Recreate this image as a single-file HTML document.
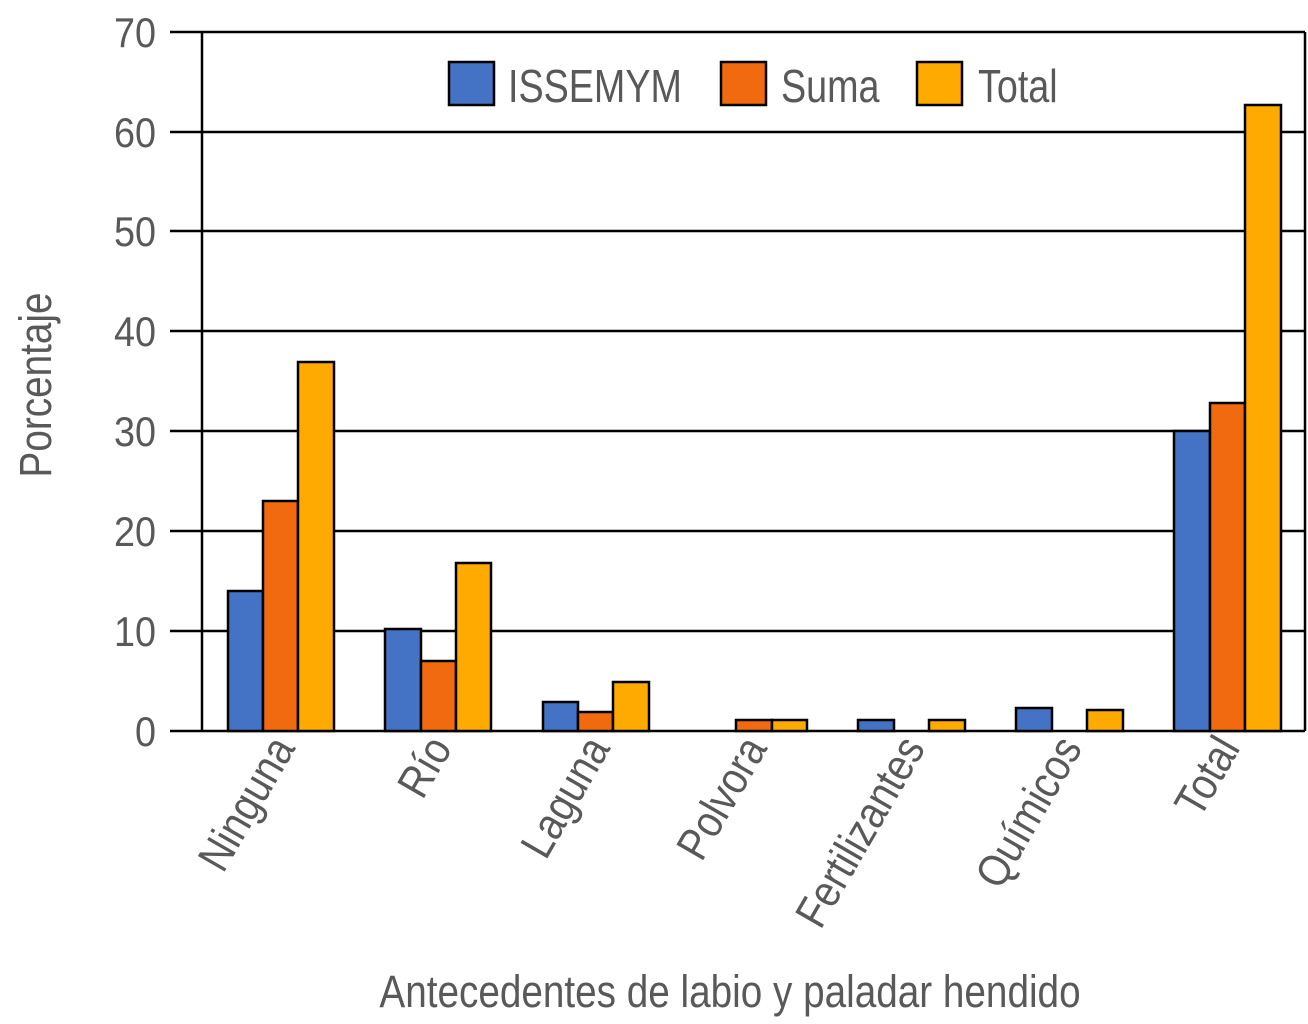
<!DOCTYPE html>
<html><head><meta charset="utf-8"><style>body{margin:0;background:#fff}svg{display:block}</style></head><body>
<svg width="1308" height="1024" xmlns="http://www.w3.org/2000/svg" font-family="Liberation Sans, sans-serif" fill="#595959">
<g stroke="#000" stroke-width="2.5">
<line x1="170" y1="32" x2="1305" y2="32"/><line x1="170" y1="132" x2="1305" y2="132"/><line x1="170" y1="231" x2="1305" y2="231"/><line x1="170" y1="331" x2="1305" y2="331"/><line x1="170" y1="431" x2="1305" y2="431"/><line x1="170" y1="531" x2="1305" y2="531"/><line x1="170" y1="631" x2="1305" y2="631"/><line x1="170" y1="731" x2="1305" y2="731"/>
<line x1="202" y1="32" x2="202" y2="731"/><line x1="1305" y1="32" x2="1305" y2="731"/>
</g>
<g font-size="42" text-anchor="end">
<text transform="translate(156,47) scale(0.9,1)">70</text><text transform="translate(156,147) scale(0.9,1)">60</text><text transform="translate(156,246) scale(0.9,1)">50</text><text transform="translate(156,346) scale(0.9,1)">40</text><text transform="translate(156,446) scale(0.9,1)">30</text><text transform="translate(156,546) scale(0.9,1)">20</text><text transform="translate(156,646) scale(0.9,1)">10</text><text transform="translate(156,746) scale(0.9,1)">0</text>
</g>
<g stroke="#000" stroke-width="2.5">
<rect x="228" y="591" width="35" height="140" fill="#4472C4"/><rect x="263" y="501" width="35" height="230" fill="#F26A0F"/><rect x="298" y="362" width="36" height="369" fill="#FFAA00"/>
<rect x="385" y="629" width="36" height="102" fill="#4472C4"/><rect x="421" y="661" width="35" height="70" fill="#F26A0F"/><rect x="456" y="563" width="35" height="168" fill="#FFAA00"/>
<rect x="543" y="702" width="35" height="29" fill="#4472C4"/><rect x="578" y="712" width="35" height="19" fill="#F26A0F"/><rect x="613" y="682" width="36" height="49" fill="#FFAA00"/>
<rect x="736" y="720" width="36" height="11" fill="#F26A0F"/><rect x="772" y="720" width="35" height="11" fill="#FFAA00"/>
<rect x="858" y="720" width="36" height="11" fill="#4472C4"/><rect x="929" y="720" width="36" height="11" fill="#FFAA00"/>
<rect x="1016" y="708" width="36" height="23" fill="#4472C4"/><rect x="1087" y="710" width="36" height="21" fill="#FFAA00"/>
<rect x="1174" y="431" width="36" height="300" fill="#4472C4"/><rect x="1210" y="403" width="35" height="328" fill="#F26A0F"/><rect x="1245" y="105" width="36" height="626" fill="#FFAA00"/>
<rect x="449" y="62" width="45" height="43" fill="#4472C4"/><rect x="721" y="62" width="45" height="43" fill="#F26A0F"/><rect x="917" y="62" width="45" height="43" fill="#FFAA00"/>
</g>
<g font-size="46">
<text transform="translate(508,102) scale(0.82,1)">ISSEMYM</text>
<text transform="translate(781,102) scale(0.82,1)">Suma</text>
<text transform="translate(978,102) scale(0.82,1)">Total</text>
</g>
<g font-size="45" text-anchor="end">
<text transform="translate(296,748) rotate(-60) scale(0.87,1)">Ninguna</text>
<text transform="translate(453,748) rotate(-60) scale(0.87,1)">Río</text>
<text transform="translate(611,748) rotate(-60) scale(0.87,1)">Laguna</text>
<text transform="translate(768,748) rotate(-60) scale(0.87,1)">Polvora</text>
<text transform="translate(926,748) rotate(-60) scale(0.87,1)">Fertilizantes</text>
<text transform="translate(1083,748) rotate(-60) scale(0.87,1)">Químicos</text>
<text transform="translate(1241,748) rotate(-60) scale(0.87,1)">Total</text>
</g>
<text font-size="45" text-anchor="middle" transform="translate(730,1007) scale(0.86,1)">Antecedentes de labio y paladar hendido</text>
<text font-size="45" text-anchor="middle" transform="translate(51,385) rotate(-90) scale(0.86,1)">Porcentaje</text>
</svg>
</body></html>
